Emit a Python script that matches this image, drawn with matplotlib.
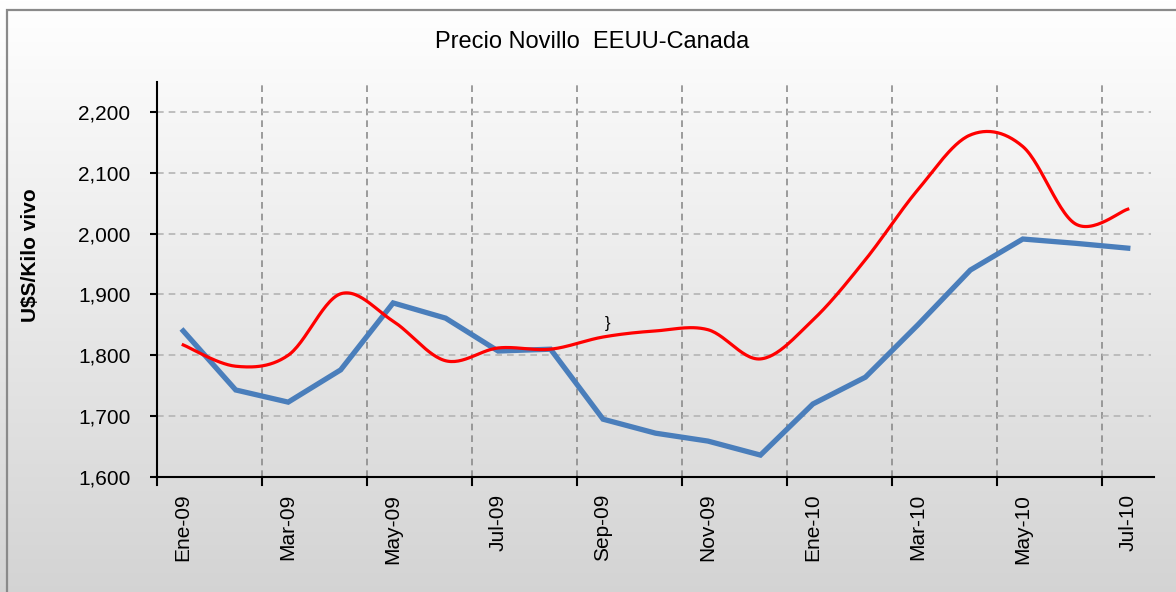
import numpy as np
import matplotlib.pyplot as plt
from matplotlib.patches import Rectangle

plt.rcParams['font.family'] = ['Liberation Sans', 'DejaVu Sans']

months = ['Ene-09', 'Feb-09', 'Mar-09', 'Abr-09', 'May-09', 'Jun-09', 'Jul-09',
          'Ago-09', 'Sep-09', 'Oct-09', 'Nov-09', 'Dic-09', 'Ene-10', 'Feb-10',
          'Mar-10', 'Abr-10', 'May-10', 'Jun-10', 'Jul-10']
eeuu = [1840, 1743, 1723, 1776, 1886, 1861, 1807, 1810, 1695, 1672, 1659,
        1636, 1720, 1764, 1850, 1940, 1991, 1984, 1976]
canada = [1817, 1782, 1800, 1901, 1856, 1791, 1812, 1810, 1830, 1840, 1842,
          1794, 1858, 1957, 2072, 2162, 2143, 2016, 2040]
yticks = [1600, 1700, 1800, 1900, 2000, 2100, 2200]


def smooth(x, y, n=30):
    # Excel-style smoothed line: Catmull-Rom segments as cubic Bezier
    x = np.asarray(x, float)
    y = np.asarray(y, float)
    px = np.concatenate([[x[0]], x, [x[-1]]])
    py = np.concatenate([[y[0]], y, [y[-1]]])
    t = np.linspace(0, 1, n)[:, None]
    out_x, out_y = [], []
    for i in range(len(x) - 1):
        p0 = np.array([px[i + 1], py[i + 1]])
        p3 = np.array([px[i + 2], py[i + 2]])
        p1 = p0 + (np.array([px[i + 2], py[i + 2]]) - np.array([px[i], py[i]])) / 6
        p2 = p3 - (np.array([px[i + 3], py[i + 3]]) - np.array([px[i + 1], py[i + 1]])) / 6
        seg = ((1 - t) ** 3) * p0 + 3 * ((1 - t) ** 2) * t * p1 \
            + 3 * (1 - t) * t ** 2 * p2 + t ** 3 * p3
        out_x.extend(seg[:, 0])
        out_y.extend(seg[:, 1])
    return np.array(out_x), np.array(out_y)


fig = plt.figure(figsize=(11.76, 5.92), dpi=100)

# background gradient + frame
bg = fig.add_axes([0, 0, 1, 1], zorder=-10)
grad = np.linspace(1.0, 0.83, 256)[:, None]
bg.imshow(np.dstack([grad, grad, grad]), aspect='auto', extent=[0, 1, 0, 1])
bg.add_patch(Rectangle((7 / 1176, -0.05), 1.2, (592 - 10) / 592 + 0.05,
                       fill=False, edgecolor='#8a8a8a', lw=1.6))
bg.set_xlim(0, 1)
bg.set_ylim(0, 1)
bg.axis('off')

ax = fig.add_axes([157 / 1176, (592 - 477) / 592, (1154 - 157) / 1176,
                   (477 - 82) / 592])
ax.patch.set_alpha(0)

xs = np.arange(len(months))
ax.plot(xs, eeuu, color='#4a7ebb', lw=3.8, solid_joinstyle='miter', zorder=3)
sx, sy = smooth(xs, canada)
ax.plot(sx, sy, color='#ff0000', lw=2.3, zorder=4)

ax.set_xlim(-0.5, len(months) - 0.5)
ax.set_ylim(1600, 2249)
ax.set_yticks(yticks)
ax.set_yticklabels([f'{v:,}' for v in yticks], fontsize=15)
ax.set_xticks(xs[::2])
ax.set_xticklabels(months[::2], rotation=90, fontsize=15)
ax.tick_params(axis='x', length=0, pad=12)
ax.tick_params(axis='y', direction='out', length=5, width=1.5, pad=14)

# category boundaries every two months
for b in np.arange(1.5, len(months) - 0.5, 2):
    ax.axvline(b, color='#8c8c8c', lw=1.2, ls=(0, (4, 3)), zorder=1)
    ax.plot([b, b], [0, -0.02], transform=ax.get_xaxis_transform(),
            color='black', lw=1.5, clip_on=False)
ax.plot([-0.5, -0.5], [0, -0.02], transform=ax.get_xaxis_transform(),
        color='black', lw=1.5, clip_on=False)
for v in yticks[1:]:
    ax.plot([-0.5, len(months) - 0.55], [v, v], color='#b4b4b4', lw=1.2,
            ls=(0, (4, 3)), zorder=1)

for s in ['top', 'right']:
    ax.spines[s].set_visible(False)
ax.spines['left'].set_linewidth(1.5)
ax.spines['bottom'].set_linewidth(1.5)

ax.set_ylabel('U$S/Kilo vivo', fontsize=15, fontweight='bold')
ax.yaxis.set_label_coords(-0.117, 0.562)
fig.text(592 / 1176, 1 - 42 / 592, 'Precio Novillo  EEUU-Canada', fontsize=17,
         ha='center', va='center')
ax.text(8.08, 1853, '}', fontsize=12, ha='center', va='center')

fig.savefig('out.png', dpi=100)
